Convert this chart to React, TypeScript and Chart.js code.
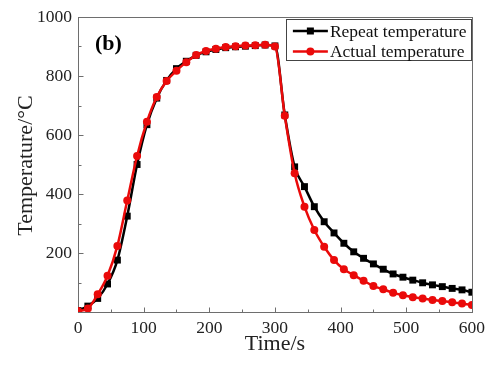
import React, { useEffect, useRef } from "react";
import { Chart, registerables } from "chart.js";

Chart.register(...registerables);

const TIME_S = [0, 15, 30, 45, 60, 75, 90, 105, 120, 135, 150, 165, 180, 195, 210, 225, 240, 255, 270, 285, 300, 315, 330, 345, 360, 375, 390, 405, 420, 435, 450, 465, 480, 495, 510, 525, 540, 555, 570, 585, 600];
const REPEAT_TEMP = [5, 20, 46, 95, 176, 325, 500, 635, 725, 785, 825, 850, 870, 882, 890, 896, 899, 901, 903, 905, 902, 668, 492, 425, 357, 306, 268, 233, 204, 182, 163, 145, 129, 118, 108, 99, 92, 86, 80, 75, 67];
const ACTUAL_TEMP = [3, 12, 60, 123, 224, 378, 529, 645, 729, 783, 818, 847, 871, 885, 892, 898, 901, 903, 904, 906, 900, 665, 470, 357, 278, 221, 176, 145, 125, 106, 88, 77, 65, 57, 50, 46, 41, 37, 33, 29, 24];

const SERIES_NAMES = ["Repeat temperature", "Actual temperature"];
const X_MAJOR = [0, 100, 200, 300, 400, 500, 600];
const X_MINOR = [50, 150, 250, 350, 450, 550];
const Y_MAJOR = [0, 200, 400, 600, 800, 1000];
const Y_MINOR = [100, 300, 500, 700, 900];
const PANEL_LABEL = "(b)";
const X_TITLE = "Time/s";
const Y_TITLE = "Temperature/\u00B0C";

const FONT = "'Liberation Serif', 'Times New Roman', serif";
const AXIS_COLOR = "#6e6e6e";
const TEXT_COLOR = "#222";
const RED = "#ea0a0a";

const framePlugin = {
  id: "frame",
  beforeDatasetsDraw(chart: any) {
    const { ctx, chartArea: a, scales } = chart;
    const x = scales.x, y = scales.y;
    ctx.save();
    ctx.strokeStyle = AXIS_COLOR;
    ctx.lineWidth = 1;
    ctx.strokeRect(Math.round(a.left) + 0.5, Math.round(a.top) + 0.5, Math.round(a.right - a.left), Math.round(a.bottom - a.top));
    ctx.beginPath();
    const b = Math.round(a.bottom) + 0.5;
    const l = Math.round(a.left) + 0.5;
    for (const v of X_MAJOR) { const p = Math.round(x.getPixelForValue(v)) + 0.5; ctx.moveTo(p, b); ctx.lineTo(p, b - 5); }
    for (const v of X_MINOR) { const p = Math.round(x.getPixelForValue(v)) + 0.5; ctx.moveTo(p, b); ctx.lineTo(p, b - 3); }
    for (const v of Y_MAJOR) { const p = Math.round(y.getPixelForValue(v)) + 0.5; ctx.moveTo(l, p); ctx.lineTo(l + 5, p); }
    for (const v of Y_MINOR) { const p = Math.round(y.getPixelForValue(v)) + 0.5; ctx.moveTo(l, p); ctx.lineTo(l + 3, p); }
    ctx.stroke();

    ctx.fillStyle = TEXT_COLOR;
    ctx.font = `22px ${FONT}`;
    ctx.textAlign = "center";
    ctx.textBaseline = "middle";
    ctx.fillText(X_TITLE, (a.left + a.right) / 2, a.bottom + 32);
    ctx.save();
    ctx.translate(26, (a.top + a.bottom) / 2 + 1);
    ctx.rotate(-Math.PI / 2);
    ctx.fillText(Y_TITLE, 0, 0);
    ctx.restore();

    ctx.font = `bold 22px ${FONT}`;
    ctx.textAlign = "left";
    ctx.fillStyle = "#000";
    ctx.fillText(PANEL_LABEL, a.left + 17, a.top + 27);
    ctx.restore();
  },
  afterDraw(chart: any) {
    const { ctx, chartArea: a } = chart;
    ctx.save();
    const boxR = a.right - 1, boxT = a.top + 2, boxW = 185, boxH = 41;
    const boxL = boxR - boxW;
    ctx.fillStyle = "#fff";
    ctx.fillRect(boxL, boxT, boxW, boxH);
    ctx.strokeStyle = "#444";
    ctx.lineWidth = 1;
    ctx.strokeRect(Math.round(boxL) + 0.5, Math.round(boxT) + 0.5, boxW, boxH);
    chart.data.datasets.forEach((ds: any, i: number) => {
      const cy = boxT + 12 + i * 20.5;
      const x0 = boxL + 7, x1 = boxL + 42;
      ctx.strokeStyle = ds.borderColor;
      ctx.lineWidth = 2.5;
      ctx.beginPath();
      ctx.moveTo(x0, cy); ctx.lineTo(x1, cy);
      ctx.stroke();
      const cx = (x0 + x1) / 2;
      ctx.fillStyle = ds.pointBackgroundColor;
      if (ds.pointStyle === "rect") {
        ctx.fillRect(cx - 3.5, cy - 3.5, 7, 7);
      } else {
        ctx.beginPath(); ctx.arc(cx, cy, 4, 0, Math.PI * 2); ctx.fill();
      }
      ctx.fillStyle = "#111";
      ctx.font = `17.5px ${FONT}`;
      ctx.textAlign = "left";
      ctx.textBaseline = "middle";
      ctx.fillText(ds.label, x1 + 2, cy + 1);
    });
    ctx.restore();
  },
};

export default function App() {
  const ref = useRef<HTMLCanvasElement | null>(null);
  useEffect(() => {
    if (!ref.current) return;
    const chart = new Chart(ref.current, {
      type: "line",
      data: {
        datasets: [
          {
            label: SERIES_NAMES[0],
            data: TIME_S.map((t, i) => ({ x: t, y: REPEAT_TEMP[i] })),
            borderColor: "#000",
            backgroundColor: "#000",
            pointBackgroundColor: "#000",
            pointBorderColor: "#000",
            pointStyle: "rect",
            pointRadius: 4.9,
            pointBorderWidth: 0,
            borderWidth: 2.5,
            cubicInterpolationMode: "monotone",
            order: 1,
          },
          {
            label: SERIES_NAMES[1],
            data: TIME_S.map((t, i) => ({ x: t, y: ACTUAL_TEMP[i] })),
            borderColor: RED,
            backgroundColor: RED,
            pointBackgroundColor: RED,
            pointBorderColor: RED,
            pointStyle: "circle",
            pointRadius: 4,
            pointBorderWidth: 0,
            borderWidth: 2.5,
            cubicInterpolationMode: "monotone",
            order: 0,
          },
        ],
      } as any,
      options: {
        animation: false,
        responsive: true,
        maintainAspectRatio: false,
        layout: { padding: { top: 17, right: 15, left: 0, bottom: 0 } },
        plugins: { legend: { display: false }, tooltip: { enabled: false } },
        scales: {
          x: {
            type: "linear",
            min: 0,
            max: 600,
            afterFit: (s: any) => { s.height = 53; },
            afterBuildTicks: (s: any) => { s.ticks = X_MAJOR.map((v) => ({ value: v })); },
            grid: { display: false, drawTicks: false },
            border: { display: false },
            ticks: { color: TEXT_COLOR, font: { family: FONT, size: 17.5 }, padding: 6, maxRotation: 0 },
          },
          y: {
            type: "linear",
            min: 0,
            max: 1000,
            afterFit: (s: any) => { s.width = 78; },
            afterBuildTicks: (s: any) => { s.ticks = Y_MAJOR.map((v) => ({ value: v })); },
            grid: { display: false, drawTicks: false },
            border: { display: false },
            ticks: {
              color: TEXT_COLOR,
              font: { family: FONT, size: 17.5 },
              padding: 6,
              callback: (v: any) => (v === 0 ? "" : String(v)),
            },
          },
        },
      } as any,
      plugins: [framePlugin],
    });
    return () => chart.destroy();
  }, []);
  return (
    <div style={{ position: "fixed", left: 0, top: 0, width: 491, height: 365, background: "#fff" }}>
      <canvas ref={ref} />
    </div>
  );
}
